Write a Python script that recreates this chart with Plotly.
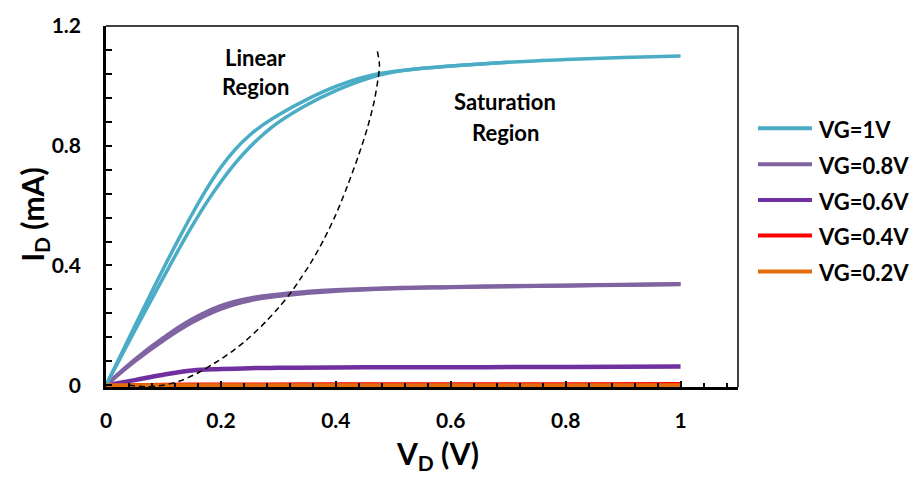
import plotly.graph_objects as go

# ---------------- data ----------------
V_vg1_fwd = [0, 0.05, 0.1, 0.125, 0.15, 0.175, 0.2, 0.225, 0.25, 0.275, 0.3, 0.35, 0.4, 0.45, 0.5, 0.6, 0.7, 0.8, 0.9, 1.0]
I_vg1_fwd = [0, 0.197, 0.39, 0.483, 0.572, 0.655, 0.728, 0.788, 0.835, 0.872, 0.903, 0.955, 0.998, 1.03, 1.048, 1.066, 1.079, 1.088, 1.095, 1.10]
V_vg1_rev = [0, 0.05, 0.1, 0.125, 0.15, 0.175, 0.2, 0.225, 0.25, 0.275, 0.3, 0.35, 0.4, 0.45, 0.5, 0.6, 0.7]
I_vg1_rev = [0, 0.182, 0.36, 0.448, 0.532, 0.61, 0.68, 0.742, 0.795, 0.84, 0.878, 0.937, 0.984, 1.021, 1.046, 1.066, 1.079]

V_vg08 = [0, 0.05, 0.1, 0.15, 0.2, 0.25, 0.3, 0.35, 0.4, 0.5, 0.6, 0.7, 0.8, 0.9, 1.0]
I_vg08_fwd = [0, 0.085, 0.158, 0.22, 0.265, 0.29, 0.303, 0.312, 0.318, 0.325, 0.328, 0.331, 0.333, 0.336, 0.338]
I_vg08_rev = [0, 0.08, 0.15, 0.21, 0.255, 0.283, 0.298, 0.308, 0.315, 0.323, 0.327, 0.33, 0.332, 0.335, 0.337]

V_vg06 = [0, 0.05, 0.1, 0.15, 0.2, 0.25, 0.3, 0.4, 0.5, 0.6, 0.8, 1.0]
I_vg06 = [0, 0.017, 0.035, 0.049, 0.054, 0.057, 0.058, 0.059, 0.06, 0.06, 0.061, 0.0625]

V_vg04 = [0, 0.1, 0.2, 0.4, 0.6, 0.8, 1.0]
I_vg04 = [0, 0.003, 0.004, 0.005, 0.005, 0.005, 0.0055]

V_vg02 = [0, 0.5, 1.0]
I_vg02 = [0, 0, 0]

V_sat = [0.04, 0.07, 0.10, 0.13, 0.163, 0.19, 0.221, 0.25, 0.279, 0.30, 0.32, 0.34,
         0.36, 0.38, 0.40, 0.42, 0.44, 0.455, 0.467, 0.474, 0.476, 0.4716]
I_sat = [0.0, -0.005, 0.0, 0.015, 0.044, 0.075, 0.115, 0.16, 0.214, 0.258, 0.305, 0.36,
         0.42, 0.49, 0.57, 0.665, 0.77, 0.86, 0.95, 1.03, 1.07, 1.123]

legend_names = ["VG=1V", "VG=0.8V", "VG=0.6V", "VG=0.4V", "VG=0.2V"]
colors = ["#4BACC6", "#8064A2", "#7030A0", "#FF0000", "#E46C0A"]

x_tickvals = [0, 0.2, 0.4, 0.6, 0.8, 1]
x_ticktext = ["0", "0.2", "0.4", "0.6", "0.8", "1"]
y_tickvals = [0, 0.4, 0.8, 1.2]
y_ticktext = ["0", "0.4", "0.8", "1.2"]

# ---------------- layout geometry ----------------
W, H = 915, 478
L, R, T, B = 106, 738, 20, 387
FONT = "Lato"


def px_x(px):
    return (px - L) / (R - L)


def px_y(py):
    return (B - py) / (B - T)


fig = go.Figure()

def add(x, y, color, width, name, smoothing=1.2):
    fig.add_trace(go.Scatter(x=x, y=y, mode="lines", name=name, showlegend=False,
                             line=dict(color=color, width=width, shape="spline", smoothing=smoothing)))

add(V_vg02, I_vg02, colors[4], 4, legend_names[4])
add(V_vg04, I_vg04, colors[3], 3, legend_names[3])
add(V_vg06, I_vg06, colors[2], 4.5, legend_names[2])
add(V_vg08, I_vg08_rev, colors[1], 4, legend_names[1])
add(V_vg08, I_vg08_fwd, colors[1], 4, legend_names[1])
add(V_vg1_rev, I_vg1_rev, colors[0], 3.5, legend_names[0])
add(V_vg1_fwd, I_vg1_fwd, colors[0], 3.5, legend_names[0])
# orange drawn on top of red as in reference
add(V_vg02, I_vg02, colors[4], 4, legend_names[4])

fig.add_trace(go.Scatter(x=V_sat, y=I_sat, mode="lines", showlegend=False,
                         line=dict(color="black", width=1.5, dash="6px,4px", shape="spline", smoothing=0.8)))

annotations = []
# region labels
for txt, cx, cy in [("Linear", 255, 52), ("Region", 255, 81),
                    ("Saturation", 505, 97), ("Region", 505, 128)]:
    annotations.append(dict(text=f"<b>{txt}</b>", x=px_x(cx), y=px_y(cy), xref="paper", yref="paper",
                            showarrow=False, xanchor="center", yanchor="middle",
                            font=dict(family=FONT, size=22, color="black")))
# axis titles
annotations.append(dict(text="<b>V<sub>D</sub> (V)</b>", x=px_x(437), y=px_y(456), xref="paper", yref="paper",
                        showarrow=False, xanchor="center", yanchor="middle",
                        font=dict(family=FONT, size=30, color="black")))
annotations.append(dict(text="<b>I<sub>D</sub> (mA)</b>", x=px_x(34), y=px_y(212), xref="paper", yref="paper",
                        showarrow=False, xanchor="center", yanchor="middle", textangle=-90,
                        font=dict(family=FONT, size=30, color="black")))

shapes = []
# top and right thin frame
shapes.append(dict(type="line", xref="paper", yref="paper", x0=0, x1=1, y0=1, y1=1,
                   line=dict(color="black", width=1.5)))
shapes.append(dict(type="line", xref="paper", yref="paper", x0=1, x1=1, y0=0, y1=1,
                   line=dict(color="black", width=1.5)))
# custom legend
leg_y = [124, 160.5, 197, 233, 269.5]
for name, col, ly in zip(legend_names, colors, leg_y):
    shapes.append(dict(type="line", xref="paper", yref="paper", x0=px_x(758), x1=px_x(812),
                       y0=px_y(ly), y1=px_y(ly), line=dict(color=col, width=4)))
    annotations.append(dict(text=f"<b>{name}</b>", x=px_x(816), y=px_y(ly + 1), xref="paper", yref="paper",
                            showarrow=False, xanchor="left", yanchor="middle",
                            font=dict(family=FONT, size=22, color="black")))

fig.update_layout(
    width=W, height=H,
    margin=dict(l=L, r=W - R, t=T, b=H - B, pad=0),
    paper_bgcolor="white", plot_bgcolor="white",
    showlegend=False,
    annotations=annotations, shapes=shapes,
    font=dict(family=FONT, color="black"),
)

fig.update_xaxes(range=[0, 1.1], showgrid=False, zeroline=False,
                 showline=True, linecolor="black", linewidth=2.5,
                 ticks="inside", ticklen=6, tickwidth=2, tickcolor="black",
                 tickvals=x_tickvals, ticktext=x_ticktext,
                 tickfont=dict(family=FONT, size=21, color="black", weight="bold"),
                 ticklabelstandoff=13,
                 minor=dict(ticks="inside", dtick=0.04, tick0=0, ticklen=4, tickwidth=2, tickcolor="black",
                            showgrid=False))
fig.update_yaxes(range=[-0.006, 1.2], showgrid=False, zeroline=False,
                 showline=True, linecolor="black", linewidth=2.5,
                 ticks="inside", ticklen=6, tickwidth=2, tickcolor="black",
                 tickvals=y_tickvals, ticktext=y_ticktext,
                 tickfont=dict(family=FONT, size=21, color="black", weight="bold"),
                 ticklabelstandoff=18,
                 minor=dict(ticks="inside", dtick=0.08, tick0=0, ticklen=6, tickwidth=2, tickcolor="black",
                            showgrid=False))

fig.write_html("out.html")
